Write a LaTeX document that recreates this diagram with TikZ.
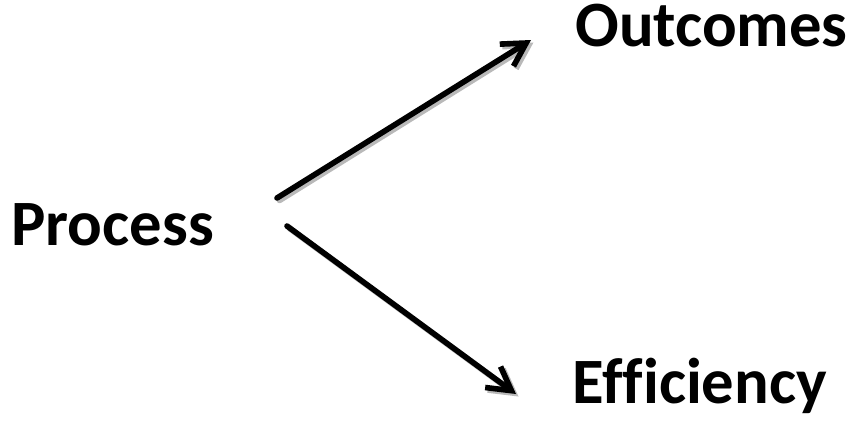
\documentclass[tikz,border=0pt]{standalone}
\usepackage{fontspec}
\setmainfont{Carlito}[Ligatures=NoCommon]
\usetikzlibrary{arrows.meta}

\begin{document}
\begin{tikzpicture}[
    x=0.02cm, y=-0.02cm,
    word/.style={inner sep=0pt, anchor=base west,
                 font=\fontsize{36.8}{42}\selectfont\bfseries},
    arr/.style={-{Straight Barb[length=4.6mm, width=5.2mm]},
                line width=3.2pt, line cap=round, line join=round},
    shade/.style={arr, draw=gray!55,
                  transform canvas={shift={(0.05cm,-0.05cm)}}}
]
\useasboundingbox (0,0) rectangle (847,426);

%% WORDS
\node[word] (process) at (11,245) {Process};
\node[word] (outcomes) at (575,46) {Outcomes};
\node[word] (efficiency) at (572,403) {Efficiency};

%% ARROW ENDS
\coordinate (outfrom) at (277,198);
\coordinate (outto) at (531,40);
\coordinate (efffrom) at (287,226);
\coordinate (effto) at (516,394);

%% SHADOWS
\draw[shade] (outfrom) -- (outto);
\draw[shade] (efffrom) -- (effto);

%% ARROWS
\draw[arr] (outfrom) -- (outto);
\draw[arr] (efffrom) -- (effto);

\end{tikzpicture}
\end{document}
